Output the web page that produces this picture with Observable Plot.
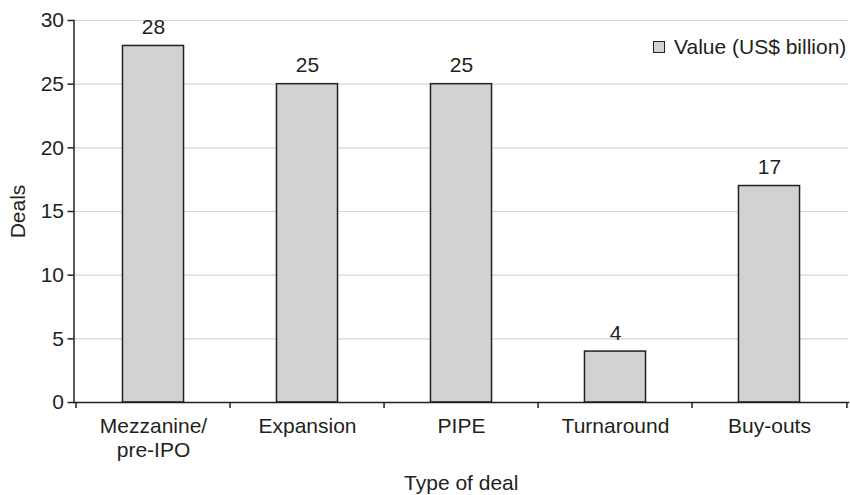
<!DOCTYPE html>
<html>
<head>
<meta charset="utf-8">
<script src="https://cdn.jsdelivr.net/npm/d3@7"></script>
<script src="https://cdn.jsdelivr.net/npm/@observablehq/plot@0.6"></script>
<style>
  body { margin: 0; background: #fff; }
  #wrap { position: relative; width: 850px; height: 495px; font-family: "Liberation Sans", Arial, Helvetica, sans-serif; color: #231f20; }
  #legend { position: absolute; left: 653px; top: 35px; font-size: 21px; display: flex; align-items: center; white-space: nowrap; }
  #legend .sw { width: 10px; height: 10px; background: #d1d2d4; border: 1px solid #231f20; margin-right: 9px; }
</style>
</head>
<body>
<div id="wrap">
  <div id="legend"><span class="sw"></span><span>Value (US$ billion)</span></div>
</div>
<script>
// Deal types and their values
const categories = ["Mezzanine/\npre-IPO", "Expansion", "PIPE", "Turnaround", "Buy-outs"];
const values = [28, 25, 25, 4, 17];
const yTicks = [0, 5, 10, 15, 20, 25, 30];
const yLabel = "Deals";
const xLabel = "Type of deal";

const data = categories.map((c, i) => ({category: c, value: values[i]}));

const W = 850, H = 495;
const mL = 73.5, mR = 2, mT = 20, mB = 93;
const step = (W - mL - mR) / categories.length;
const inset = step * 0.3;
const ink = "#231f20";
const fs = 21;
const font = "'Liberation Sans', Arial, Helvetica, sans-serif";

const chart = Plot.plot({
  width: W,
  height: H,
  marginLeft: mL,
  marginRight: mR,
  marginTop: mT,
  marginBottom: mB,
  style: {fontFamily: font, fontSize: fs + "px", color: ink, background: "white"},
  x: {domain: categories, padding: 0},
  y: {domain: [0, 30]},
  marks: [
    Plot.gridY(yTicks.filter(d => d > 0), {stroke: "#d6d6d6", strokeOpacity: 1, strokeWidth: 1.2}),
    Plot.barY(data, {x: "category", y: "value", fill: "#d1d2d4", stroke: ink, strokeWidth: 1.5, insetLeft: inset, insetRight: inset}),
    Plot.text(data, {x: "category", y: "value", text: d => String(d.value), lineAnchor: "bottom", dy: -12, fontSize: fs, fill: ink}),
    // axis lines
    Plot.frame({anchor: "left", stroke: ink, strokeWidth: 1.5}),
    Plot.frame({anchor: "bottom", stroke: ink, strokeWidth: 1.5}),
    Plot.axisY({ticks: yTicks, tickSize: 6, tickPadding: 4, fontSize: fs, label: null, stroke: ink, strokeWidth: 1.5}),
    // category labels (no tick at band centre)
    Plot.axisX({tickSize: 0, tickPadding: 13, fontSize: fs, lineHeight: 1.15, label: null}),
    // boundary ticks between categories
    Plot.axisX({tickSize: 6, tickFormat: () => "", dx: -step / 2, label: null, stroke: ink, strokeWidth: 1.5}),
    Plot.axisX({ticks: [categories[categories.length - 1]], tickSize: 6, tickFormat: () => "", dx: step / 2, label: null, stroke: ink, strokeWidth: 1.5}),
    // axis titles
    Plot.text([yLabel], {frameAnchor: "left", text: d => d, rotate: -90, dx: -55.5, fontSize: fs, fill: ink, textAnchor: "middle"}),
    Plot.text([xLabel], {frameAnchor: "bottom", text: d => d, dy: 87, fontSize: fs, fill: ink, textAnchor: "middle"})
  ]
});

document.getElementById("wrap").prepend(chart);
</script>
</body>
</html>
